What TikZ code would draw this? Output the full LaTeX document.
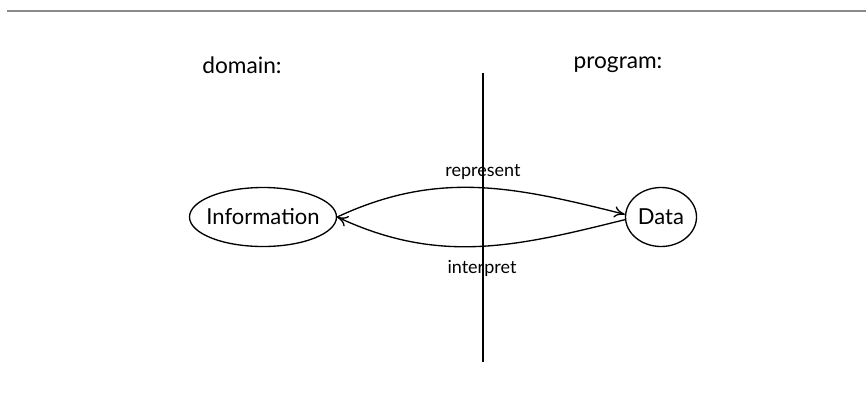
\documentclass[tikz,border=0pt]{standalone}
\usepackage{fontspec}
\setmainfont{Lato}
\usepackage{tikz}
\usetikzlibrary{arrows.meta,positioning,shapes.geometric}
\definecolor{ink}{HTML}{000000}
\definecolor{rulegray}{HTML}{8A8A8A}
\tikzset{
  >={To[length=2.8mm,width=3mm]},
  side/.style={font=\fontsize{17}{20}\selectfont,text=ink},
  blob/.style={ellipse,draw=ink,line width=1pt,inner xsep=-9pt,inner ysep=0pt,font=\fontsize{16.5}{20}\selectfont},
  tag/.style={font=\fontsize{13.5}{15}\selectfont,text=ink},
  link/.style={->,line width=1pt,color=ink},
}

\begin{document}
\begin{tikzpicture}[x=.75pt,y=-.75pt]
  \useasboundingbox (0,0) rectangle (866,415);
  \draw[rulegray,line width=1.5pt] (7,11) -- (866,11);

  \node[side] (dom) at (242,65) {domain:};
  \node[side] (prog) at (618,65) {program:};

  \coordinate (divtop) at (483,73);
  \coordinate (divbot) at (483,362);
  \draw[ink,line width=1pt] (divtop) -- (divbot);

  \node[blob,minimum width=147*.75pt,minimum height=59*.75pt] (info) at (263,217) {Information};
  \node[blob,inner xsep=0pt,minimum width=71*.75pt,minimum height=59*.75pt] (data) at (661,217) {Data};

  \draw[link] (info.east) to[out=25,in=166] ([yshift=2pt]data.west);
  \draw[link] ([yshift=-2pt]data.west) to[out=-166,in=-25] (info.east);

  \node[tag] (rep) at (483,172) {represent};
  \node[tag] (intp) at (482,268) {interpret};
\end{tikzpicture}
\end{document}
